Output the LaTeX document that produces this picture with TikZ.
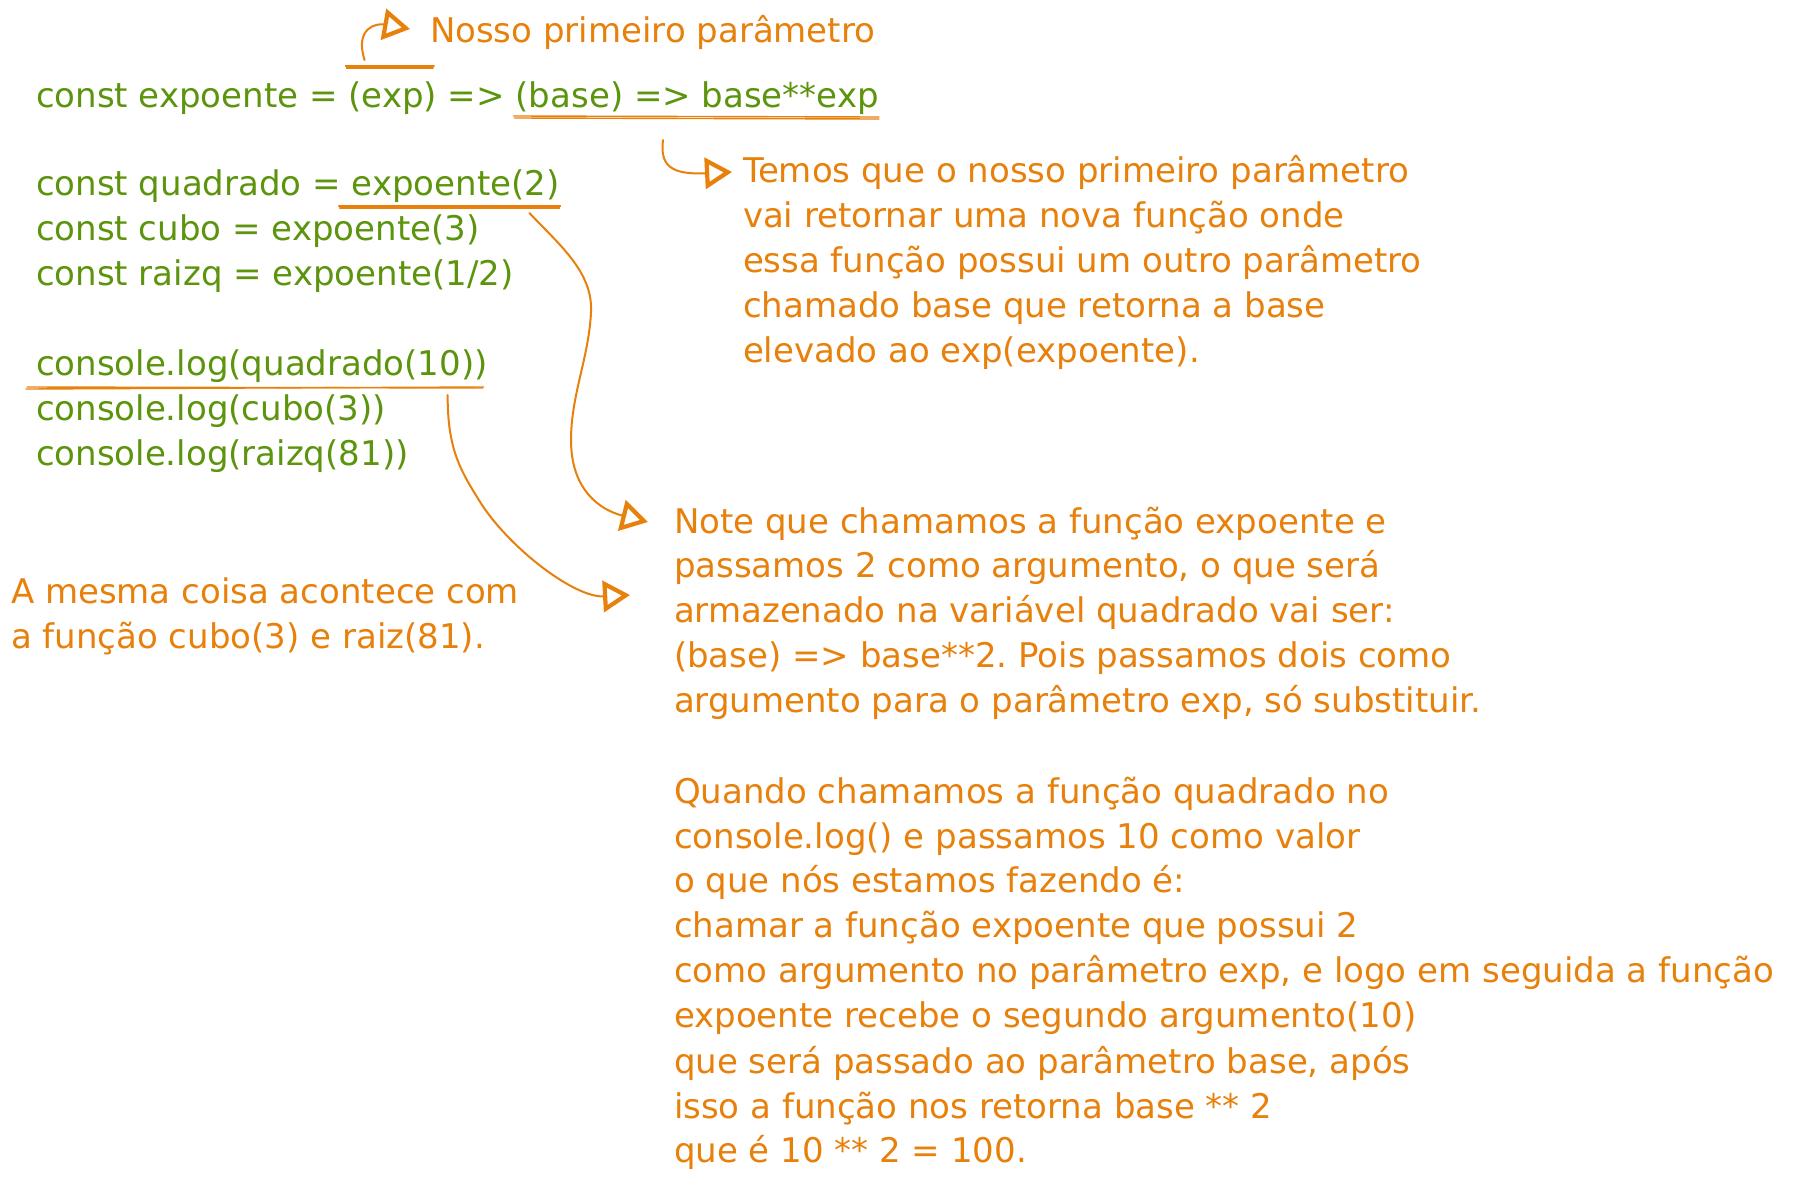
\documentclass[tikz,border=0pt]{standalone}
\usepackage{fontspec}
\setmainfont{DejaVu Sans}
\usetikzlibrary{arrows.meta,calc}
\definecolor{codegreen}{HTML}{5C940D}
\definecolor{noteorange}{HTML}{E8800C}
\newlength\spw
\frenchspacing
\begin{document}
\settowidth\spw{\fontsize{34}{45}\selectfont\ }
\begin{tikzpicture}[x=1pt,y=-1pt,
  txt/.style={inner sep=0pt, outer sep=0pt, anchor=base west, font=\fontsize{34}{45}\selectfont},
  code/.style={txt, text=codegreen},
  note/.style={txt, text=noteorange},
  arr/.style={draw=noteorange, line width=2pt, line cap=round, line join=round,
    -{Triangle[open, length=27pt, width=31pt, line width=4.2pt]}},
  uline/.style={draw=noteorange, line width=1.4pt, line cap=round},
]
\fill[white] (0,0) rectangle (1804,1186);
\useasboundingbox (0,0) rectangle (1804,1186);

% code (green)
\node[code] (c1a) at (36,107) {const expoente =};
\node[code] (c1b) at ($(c1a.base east)+(\spw,0)$) {(exp)};
\node[code] (c1c) at ($(c1b.base east)+(\spw,0)$) {=>};
\node[code] (c1d) at ($(c1c.base east)+(\spw,0)$) {(base) => base**exp};
\node[code] (c2a) at (36,195) {const quadrado =};
\node[code] (c2b) at ($(c2a.base east)+(\spw,0)$) {expoente(2)};
\node[code] (c3) at (36,240) {const cubo = expoente(3)};
\node[code] (c4) at (36,285) {const raizq = expoente(1/2)};
\node[code] (c5) at (36,375) {console.log(quadrado(10))};
\node[code] (c6) at (36,420) {console.log(cubo(3))};
\node[code] (c7) at (36,465) {console.log(raizq(81))};

% notes (orange)
\node[note] (nosso) at (430,42) {Nosso primeiro parâmetro};

\node[note] (t1) at (743,182) {Temos que o nosso primeiro parâmetro};
\node[note] (t2) at (743,227) {vai retornar uma nova função onde};
\node[note] (t3) at (743,272) {essa função possui um outro parâmetro};
\node[note] (t4) at (743,317) {chamado base que retorna a base};
\node[note] (t5) at (743,362) {elevado ao exp(expoente).};

\node[note] (n1) at (674,533) {Note que chamamos a função expoente e};
\node[note] (n2) at (674,577) {passamos 2 como argumento, o que será};
\node[note] (n3) at (674,622) {armazenado na variável quadrado vai ser:};
\node[note] (n4) at (674,667) {(base) => base**2. Pois passamos dois como};
\node[note] (n5) at (674,712) {argumento para o parâmetro exp, só substituir.};

\node[note] (q1) at (674,803) {Quando chamamos a função quadrado no};
\node[note] (q2) at (674,848) {console.log() e passamos 10 como valor};
\node[note] (q3) at (674,892) {o que nós estamos fazendo é:};
\node[note] (q4) at (674,937) {chamar a função expoente que possui 2};
\node[note] (q5) at (674,982) {como argumento no parâmetro exp, e logo em seguida a função};
\node[note] (q6) at (674,1027) {expoente recebe o segundo argumento(10)};
\node[note] (q7) at (674,1073) {que será passado ao parâmetro base, após};
\node[note] (q8) at (674,1118) {isso a função nos retorna base ** 2};
\node[note] (q9) at (674,1162) {que é 10 ** 2 = 100.};

\node[note] (m1) at (11,603) {A mesma coisa acontece com};
\node[note] (m2) at (11,648) {a função cubo(3) e raiz(81).};

% sketchy underlines (double strokes)
\draw[uline] ($(c1b.base west)+(-3,-41)$) -- ($(c1b.base east)+(-3,-41)$);
\draw[uline] ($(c1b.base west)+(-2,-39)$) -- ($(c1b.base east)+(-4,-39)$);
\draw[uline] ($(c1d.base west)+(-2,9)$) -- ($(c1d.base east)+(0,10)$);
\draw[uline] ($(c1d.base west)+(-1,11)$) -- ($(c1d.base east)+(0,12)$);
\draw[uline] ($(c2b.base west)+(-13,11)$) -- ($(c2b.base east)+(1,11)$);
\draw[uline] ($(c2b.base west)+(-12,13)$) -- ($(c2b.base east)+(0,13)$);
\draw[uline] ($(c5.base west)+(-10,14)$) -- ($(c5.base east)+(-4,12)$);
\draw[uline] ($(c5.base west)+(-9,12)$) -- ($(c5.base east)+(-5,13)$);

% connector end points
\coordinate (aS) at ($(c1b.base west)+(16,-47)$);
\coordinate (aE) at ($(nosso.base west)+(-20,-13)$);
\coordinate (bS) at ($(t1.base west)+(-80,-42)$);
\coordinate (bE) at ($(t1.base west)+(-11,-10)$);
\coordinate (cS) at ($(c2b.base east)+(-30,18)$);
\coordinate (cM1) at (591,312);
\coordinate (cM2) at (571,440);
\coordinate (cE) at ($(n1.base west)+(-26,-11)$);
\coordinate (dS) at ($(c5.base east)+(-40,20)$);
\coordinate (dM) at (482,505);
\coordinate (dE) at ($(n2.base west)+(-44,18)$);

% arrows
\draw[arr] (aS) .. controls +(-10,-32) and +(-34,-6) .. (aE);
\draw[arr] (bS) .. controls +(-3,25) and +(-62,3) .. (bE);
\draw[arr] (cS) .. controls +(30,32) and +(2,-40) .. (cM1)
  .. controls +(-2,45) and +(0,-45) .. (cM2)
  .. controls +(0,50) and +(-48,-12) .. (cE);
\draw[arr] (dS) .. controls +(0,55) and +(-22,-35) .. (dM)
  .. controls +(30,45) and +(-55,3) .. (dE);
\end{tikzpicture}
\end{document}
